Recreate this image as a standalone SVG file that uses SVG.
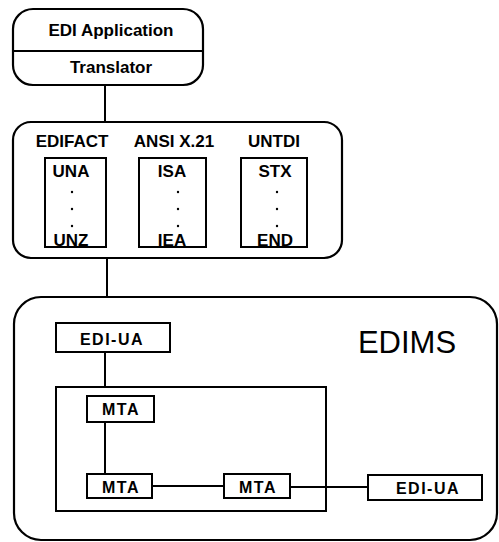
<svg xmlns="http://www.w3.org/2000/svg" width="499" height="542" viewBox="0 0 499 542">
<style>
.box{fill:none;stroke:#000;stroke-width:2.2}
.ibox{fill:none;stroke:#000;stroke-width:2}
.ln{fill:none;stroke:#000;stroke-width:2}
.b{font-family:"Liberation Sans",Arial,sans-serif;font-weight:bold;font-size:17px;text-anchor:middle;fill:#000}
.r{font-family:"Liberation Sans",Arial,sans-serif;font-size:16px;letter-spacing:1.5px;text-anchor:middle;fill:#000;font-weight:bold}
.big{font-family:"Liberation Sans",Arial,sans-serif;font-size:31px;text-anchor:middle;fill:#000}
.dot{fill:#000}
</style>
<rect width="499" height="542" fill="#fff"/>
<g id="connectors">
<line class="ln" x1="105" y1="85" x2="105" y2="122"/>
<line class="ln" x1="107" y1="258" x2="107" y2="297"/>
<line class="ln" x1="105" y1="352" x2="105" y2="387"/>
<line class="ln" x1="105" y1="422" x2="105" y2="474"/>
<line class="ln" x1="152" y1="486" x2="224" y2="486"/>
<line class="ln" x1="290" y1="487" x2="368" y2="487"/>
</g>
<g id="application">
<rect class="box" x="13" y="9" width="190" height="76" rx="20"/>
<line class="ln" x1="13" y1="51" x2="203" y2="51"/>
<text class="b" x="111" y="36">EDI Application</text>
<text class="b" x="111" y="73">Translator</text>
</g>
<g id="syntax">
<rect class="box" x="13" y="122" width="329" height="136" rx="18"/>
<text class="b" x="72" y="147">EDIFACT</text>
<text class="b" x="174" y="147">ANSI X.21</text>
<text class="b" x="274" y="147">UNTDI</text>
<g id="edifact">
<rect class="ibox" x="45" y="158" width="61" height="89"/>
<text class="b" x="71" y="177">UNA</text>
<circle class="dot" cx="72" cy="192" r="1.2"/><circle class="dot" cx="72" cy="209" r="1.2"/><circle class="dot" cx="72" cy="226" r="1.2"/>
<text class="b" x="71" y="246">UNZ</text>
</g>
<g id="ansi">
<rect class="ibox" x="139" y="158" width="67" height="89"/>
<text class="b" x="172" y="177">ISA</text>
<circle class="dot" cx="178" cy="192" r="1.2"/><circle class="dot" cx="178" cy="209" r="1.2"/><circle class="dot" cx="178" cy="226" r="1.2"/>
<text class="b" x="172" y="246">IEA</text>
</g>
<g id="untdi">
<rect class="ibox" x="241" y="158" width="66" height="89"/>
<text class="b" x="275" y="177">STX</text>
<circle class="dot" cx="277" cy="192" r="1.2"/><circle class="dot" cx="277" cy="209" r="1.2"/><circle class="dot" cx="277" cy="226" r="1.2"/>
<text class="b" x="275" y="246">END</text>
</g>
</g>
<g id="edims">
<rect class="box" x="14" y="297" width="483" height="243" rx="27"/>
<text class="big" x="407" y="353">EDIMS</text>
</g>
<g id="edi-ua-1">
<rect class="ibox" x="56" y="323" width="114" height="29"/>
<text class="r" x="112" y="345">EDI-UA</text>
</g>
<g id="mts">
<rect class="ibox" x="56" y="387" width="270" height="124"/>
</g>
<g id="mta-1">
<rect class="ibox" x="87" y="396" width="67" height="26"/>
<text class="r" x="121" y="415">MTA</text>
</g>
<g id="mta-2">
<rect class="ibox" x="87" y="474" width="65" height="24"/>
<text class="r" x="121" y="493">MTA</text>
</g>
<g id="mta-3">
<rect class="ibox" x="224" y="474" width="66" height="24"/>
<text class="r" x="258" y="493">MTA</text>
</g>
<g id="edi-ua-2">
<rect class="ibox" x="368" y="475" width="114" height="25"/>
<text class="r" x="428" y="494">EDI-UA</text>
</g>
</svg>
